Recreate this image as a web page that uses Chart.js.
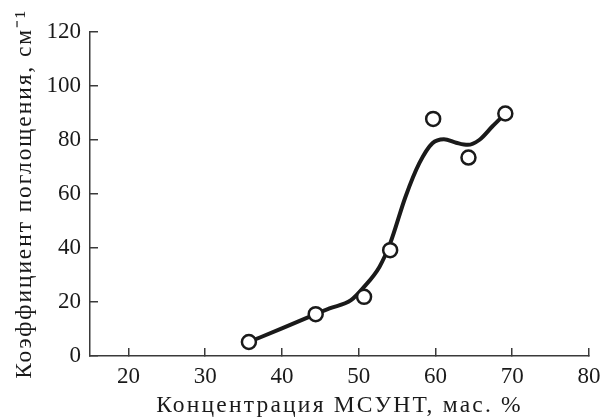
<!DOCTYPE html>
<html>
<head>
<meta charset="utf-8">
<script src="https://cdn.jsdelivr.net/npm/chart.js@4"></script>
<style>
html,body{margin:0;padding:0;background:#fff;}
#wrap{width:604px;height:419px;position:relative;}
</style>
</head>
<body>
<div id="wrap"><canvas id="c" width="604" height="419"></canvas></div>
<script>
// Measured points
const pointX = [35.7, 44.4, 50.7, 54.1, 59.7, 64.3, 69.1];
const pointY = [5.2, 15.5, 21.9, 39.2, 87.8, 73.5, 89.8];
// Fitted curve
const curveX = [35.7, 40, 44.4, 46.2, 49.0, 50.7, 52.7, 54.1, 56.1, 57.9, 59.6, 61.1, 62.7, 64.2, 65.7, 67.4, 69.1];
const curveY = [5.2, 10.2, 15.5, 17.6, 20.7, 25.6, 33, 41.7, 59, 71.4, 78.8, 80.3, 79, 78.2, 80, 85, 89.8];
const xTicks = [20, 30, 40, 50, 60, 70, 80];
const yTicks = [0, 20, 40, 60, 80, 100, 120];
const xTitle = 'Концентрация МСУНТ, мас. %';
const yTitle = 'Коэффициент поглощения, см⁻¹';

const ink = '#1a1a1a';
const axisCol = '#3a3a3a';
const fam = '"Liberation Serif", "Times New Roman", serif';

const curve = curveX.map((x, i) => ({x, y: curveY[i]}));
const pts = pointX.map((x, i) => ({x, y: pointY[i]}));

function spacedTitle(s, spacing) {
  if (s._spaced) return;
  const orig = s.drawTitle.bind(s);
  s.drawTitle = function () {
    const ctx = this.ctx;
    const prev = ctx.letterSpacing;
    ctx.letterSpacing = spacing;
    orig();
    ctx.letterSpacing = prev || '0px';
  };
  s._spaced = true;
}

new Chart(document.getElementById('c'), {
  type: 'scatter',
  data: {
    datasets: [
      {
        type: 'line',
        data: curve,
        borderColor: ink,
        borderWidth: 4,
        pointRadius: 0,
        fill: false,
        cubicInterpolationMode: 'monotone',
        order: 2
      },
      {
        type: 'scatter',
        data: pts,
        backgroundColor: '#ffffff',
        borderColor: ink,
        borderWidth: 2.5,
        pointRadius: 7,
        order: 1
      }
    ]
  },
  options: {
    responsive: false,
    animation: false,
    events: [],
    layout: {padding: {left: 0, right: 15, top: 32, bottom: 0}},
    plugins: {legend: {display: false}, tooltip: {enabled: false}},
    scales: {
      x: {
        type: 'linear',
        min: 15, max: 80,
        afterBuildTicks: s => { s.ticks = xTicks.map(v => ({value: v})); },
        afterFit: s => { s.height = 63; s.paddingLeft = 0; s.paddingRight = 0; spacedTitle(s, '2.2px'); },
        border: {color: axisCol, width: 1.5},
        grid: {drawOnChartArea: false, tickLength: -8, color: axisCol, lineWidth: 1.5},
        ticks: {color: ink, font: {family: fam, size: 23}, padding: 15, maxRotation: 0},
        title: {display: true, text: xTitle, color: ink, font: {family: fam, size: 23.5, lineHeight: 1}, padding: {top: 0, bottom: 1}}
      },
      y: {
        type: 'linear',
        min: 0, max: 120,
        afterBuildTicks: s => { s.ticks = yTicks.map(v => ({value: v})); },
        afterFit: s => { s.width = 90; s.paddingTop = 0; s.paddingBottom = 0; spacedTitle(s, '1.9px'); },
        border: {color: axisCol, width: 1.5},
        grid: {drawOnChartArea: false, tickLength: -8, color: axisCol, lineWidth: 1.5},
        ticks: {color: ink, font: {family: fam, size: 23}, padding: 17},
        title: {display: true, text: yTitle, color: ink, font: {family: fam, size: 23.5, lineHeight: 1}, padding: {top: 13, bottom: 0}}
      }
    }
  }
});
</script>
</body>
</html>
